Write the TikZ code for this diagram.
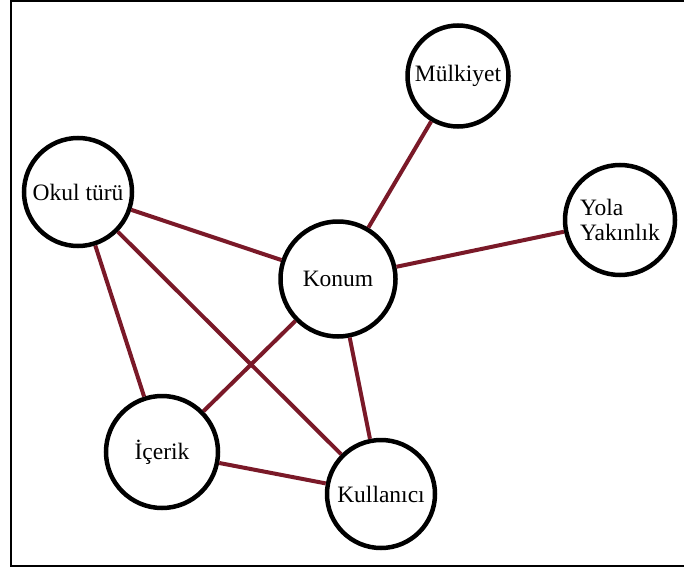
\documentclass[tikz,border=0pt]{standalone}
\usepackage{fontspec}
\setmainfont{Liberation Serif}
\definecolor{linkred}{RGB}{122,25,40}
\begin{document}
\begin{tikzpicture}[x=1pt,y=-1pt,
  topic/.style={circle,draw=black,line width=4.5pt,fill=white,inner sep=0pt,
    font=\fontsize{23.5}{25}\selectfont},
  link/.style={draw=linkred,line width=4pt}]
\useasboundingbox (0,0) rectangle (684,572);
% frame, open on the right
\draw[line width=2pt] (684,1) -- (11,1) -- (11,566) -- (684,566);
% topics
\node[topic,minimum size=101pt] (mulk) at (458,76) {Mülkiyet};
\node[topic,minimum size=108pt] (okul) at (78,192) {Okul türü};
\node[topic,minimum size=115pt] (konum) at (338,279) {Konum};
\node[topic,minimum size=110pt,align=left] (yola) at (620,220) {Yola\\Yakınlık};
\node[topic,minimum size=112pt] (icerik) at (162,452) {İçerik};
\node[topic,minimum size=108pt] (kull) at (381,494) {Kullanıcı};
% relations
\draw[link] (okul) -- (konum);
\draw[link] (okul) -- (kull);
\draw[link] (okul) -- (icerik);
\draw[link] (konum) -- (mulk);
\draw[link] (konum) -- (yola);
\draw[link] (konum) -- (icerik);
\draw[link] (konum) -- (kull);
\draw[link] (icerik) -- (kull);
\end{tikzpicture}
\end{document}
